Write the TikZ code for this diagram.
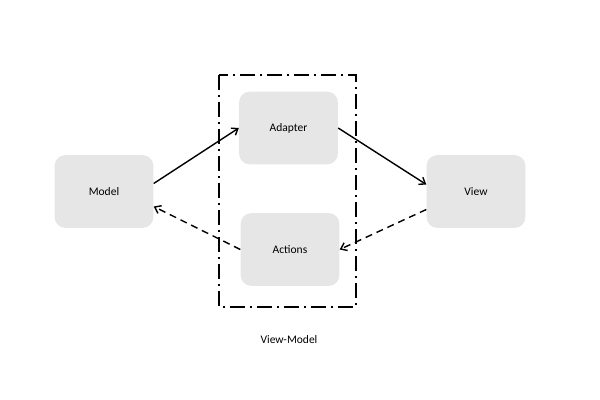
\documentclass[tikz,border=0pt]{standalone}
\usepackage{fontspec}
\setmainfont{Carlito}
\usetikzlibrary{calc,arrows.meta}

\definecolor{boxgray}{HTML}{E6E6E6}

\begin{document}
\begin{tikzpicture}[x=0.025cm,y=-0.025cm,
		box/.style={fill=boxgray,rounded corners=0.27cm,minimum width=2.47cm,minimum height=1.82cm,font=\fontsize{8.2}{10}\selectfont},
		link/.style={line width=1pt,-{Straight Barb[length=4pt,width=6pt]}},
		back/.style={link,dash pattern=on 5pt off 3.5pt}]
		\useasboundingbox (0,0) rectangle (600,400);

		\def\w{1.3pt}
		\coordinate (vmtl) at (219,75);
		\coordinate (vmbr) at (356,307);
		\draw[line width=\w,dash pattern=on 11pt off 3.5pt on 1.2pt off 3.5pt] (vmtl) rectangle (vmbr);

		\node[box] (model) at (104,191.5) {Model};
		\node[box] (adapter) at (288.5,128) {Adapter};
		\node[box] (actions) at (290,249.5) {Actions};
		\node[box] (view) at (476,191.5) {View};

		\node[font=\fontsize{8.2}{10}\selectfont] (vmlabel) at (289,340) {View-Model};

		\draw[link] ($(model.east)+(0,-8)$) -- (adapter.west);
		\draw[link] (adapter.east) -- ($(view.west)+(0,-7)$);
		\draw[back] ($(view.west)+(0,18)$) -- (actions.east);
		\draw[back] (actions.west) -- ($(model.east)+(0,15)$);
	\end{tikzpicture}
\end{document}
